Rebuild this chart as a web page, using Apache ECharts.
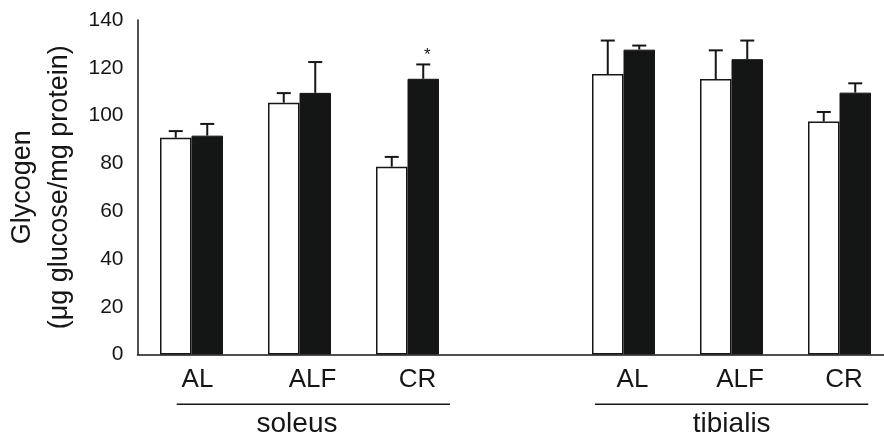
<!DOCTYPE html>
<html>
<head>
<meta charset="utf-8">
<script src="https://cdn.jsdelivr.net/npm/echarts@6/dist/echarts.min.js"></script>
<style>html,body{margin:0;padding:0;background:#fff}#c{width:884px;height:437px}</style>
</head>
<body>
<div id="c"></div>
<script>
const categories = ['AL', 'ALF', 'CR', '', 'AL', 'ALF', 'CR'];
const groupNames = ['soleus', 'tibialis'];
const whiteMeans = [90.7, 105.4, 78.6, null, 117.4, 115.3, 97.5];
const whiteErr   = [2.8, 4.0, 4.1, null, 14.0, 12.0, 4.0];
const blackMeans = [91.6, 109.5, 115.4, null, 127.6, 123.6, 109.6];
const blackErr   = [4.9, 12.9, 6.0, null, 1.7, 7.8, 3.9];
const blackSig   = ['', '', '*', '', '', '', ''];
const yMin = 0, yMax = 140, yStep = 20;

const INK = '#161616';
const BAR_W = 31.5;
const labelShift = [6, 13, 10, 0, 9, 8.5, 4.5];
const FONT = 'Liberation Sans, Arial, sans-serif';

const rich = {};
labelShift.forEach((s, i) => {
  rich['l' + i] = { padding: [0, 0, 0, 2 * s], fontSize: 26, color: INK, fontFamily: FONT };
});

function errData(means, errs, sig) {
  return means.map((m, i) => m == null ? [i, null, null, ''] : [i, m, errs[i], sig ? sig[i] : '']);
}

function errRender(side) {
  return function (params, api) {
    const m = api.value(1);
    if (m == null || isNaN(m)) return;
    const idx = api.value(0);
    const e = api.value(2);
    const p0 = api.coord([idx, m]);
    const p1 = api.coord([idx, m + e]);
    const x = p0[0] + side * BAR_W / 2;
    const children = [
      { type: 'line', shape: { x1: x, y1: p0[1], x2: x, y2: p1[1] }, style: { stroke: INK, lineWidth: 2 } },
      { type: 'line', shape: { x1: x - 7, y1: p1[1], x2: x + 7, y2: p1[1] }, style: { stroke: INK, lineWidth: 2 } }
    ];
    const s = api.value(3);
    if (s) {
      children.push({ type: 'text', x: x + 4, y: p1[1] - 9,
        style: { text: s, fontSize: 17, fontFamily: FONT, fill: INK, align: 'center', verticalAlign: 'middle' } });
    }
    return { type: 'group', children };
  };
}

const chart = echarts.init(document.getElementById('c'));
chart.setOption({
  animation: false,
  backgroundColor: '#fff',
  grid: { left: 137.5, right: -9.5, top: 20, bottom: 82.5, containLabel: false, outerBoundsMode: 'none' },
  xAxis: {
    type: 'category', data: categories,
    axisTick: { show: false },
    axisLine: { lineStyle: { color: INK, width: 1.5 } },
    axisLabel: {
      margin: 12, fontSize: 26, color: INK, fontFamily: FONT, interval: 0,
      formatter: (v, i) => v ? '{l' + i + '|' + v + '}' : '',
      rich
    }
  },
  yAxis: {
    type: 'value', min: yMin, max: yMax, interval: yStep,
    splitLine: { show: false },
    axisTick: { show: false },
    axisLine: { show: true, lineStyle: { color: INK, width: 1.5 } },
    axisLabel: { fontSize: 21, color: INK, fontFamily: FONT, margin: 14 },
    name: 'Glycogen\n(μg glucose/mg protein)',
    nameLocation: 'middle', nameGap: 56,
    nameTextStyle: { fontSize: 27, color: INK, fontFamily: FONT, lineHeight: 37 }
  },
  series: [
    { type: 'bar', data: whiteMeans, barWidth: BAR_W, barGap: '0%',
      itemStyle: { color: '#fff', borderColor: INK, borderWidth: 1.5 } },
    { type: 'bar', data: blackMeans, barWidth: BAR_W, barGap: '0%',
      itemStyle: { color: '#141615', borderColor: INK, borderWidth: 1 } },
    { type: 'custom', renderItem: errRender(-1), data: errData(whiteMeans, whiteErr), z: 5 },
    { type: 'custom', renderItem: errRender(1), data: errData(blackMeans, blackErr, blackSig), z: 5 }
  ],
  graphic: [
    { type: 'line', shape: { x1: 176.7, y1: 404.3, x2: 450, y2: 404.3 }, style: { stroke: INK, lineWidth: 1.5 } },
    { type: 'line', shape: { x1: 595, y1: 404.3, x2: 868.3, y2: 404.3 }, style: { stroke: INK, lineWidth: 1.5 } },
    { type: 'text', x: 297, y: 424, style: { text: groupNames[0], fontSize: 28, fontFamily: FONT, fill: INK, align: 'center', verticalAlign: 'middle' } },
    { type: 'text', x: 731.7, y: 424, style: { text: groupNames[1], fontSize: 28, fontFamily: FONT, fill: INK, align: 'center', verticalAlign: 'middle' } }
  ]
});
</script>
</body>
</html>
